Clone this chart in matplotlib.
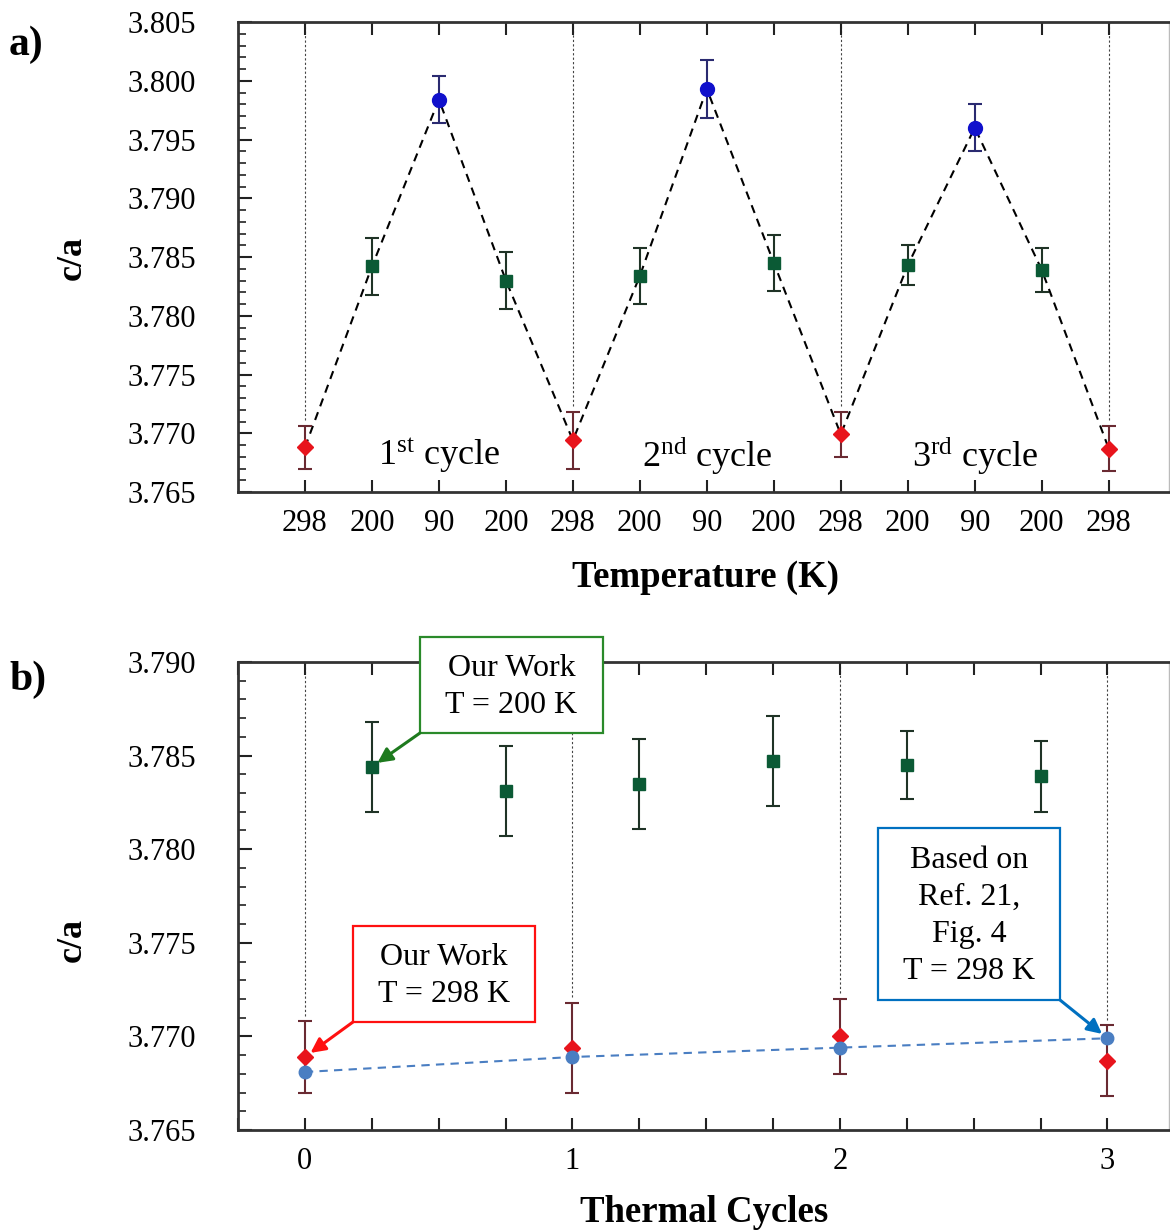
import matplotlib
matplotlib.use("Agg")
import matplotlib.pyplot as plt
from matplotlib.ticker import MultipleLocator, FixedLocator
from matplotlib.patches import Rectangle
import numpy as np

plt.rcParams['font.family'] = ['Liberation Serif', 'DejaVu Serif']
plt.rcParams['mathtext.fontset'] = 'custom'
plt.rcParams['mathtext.rm'] = 'Liberation Serif'
plt.rcParams['mathtext.it'] = 'Liberation Serif:italic'
plt.rcParams['mathtext.bf'] = 'Liberation Serif:bold'

# ---------------- data ----------------
temp_labels = ['298', '200', '90', '200', '298', '200', '90', '200', '298', '200', '90', '200', '298']
ca_top = [3.7688, 3.7842, 3.7984, 3.7830, 3.7694, 3.7834, 3.7993, 3.7845, 3.7699, 3.7843, 3.7960, 3.7839, 3.7687]
err_top = [0.0018, 0.0024, 0.0020, 0.0024, 0.0024, 0.0024, 0.0025, 0.0024, 0.0019, 0.0017, 0.0020, 0.0019, 0.0019]
cycle_names = ['1$^{\\rm st}$ cycle', '2$^{\\rm nd}$ cycle', '3$^{\\rm rd}$ cycle']

cycles_298 = [0, 1, 2, 3]
ca_298 = [3.7689, 3.7694, 3.7700, 3.7687]
err_298 = [0.0019, 0.0024, 0.0020, 0.0019]

cycles_200 = [0.25, 0.75, 1.25, 1.75, 2.25, 2.75]
ca_200 = [3.7844, 3.7831, 3.7835, 3.7847, 3.7845, 3.7839]
err_200 = [0.0024, 0.0024, 0.0024, 0.0024, 0.0018, 0.0019]

ref21_cycles = [0, 1, 2, 3]
ref21_ca = [3.7681, 3.7689, 3.7694, 3.7699]

# ---------------- figure ----------------
W, H = 1170, 1232
fig = plt.figure(figsize=(W / 100, H / 100), dpi=100)

def fx(px):
    return px / W

def fy(py):
    return 1 - py / H

AX_L, AX_R = 238, 1169
ax1 = fig.add_axes([fx(AX_L), fy(492), fx(AX_R) - fx(AX_L), fy(22) - fy(492)])
ax2 = fig.add_axes([fx(AX_L), fy(1130), fx(AX_R) - fx(AX_L), fy(662) - fy(1130)])

RED = '#e8141c'
GREEN = '#0b5a35'
BLUE = '#1010cc'
REFBLUE = '#4a7ec2'

def style_axes(ax):
    for s in ['left', 'bottom', 'top']:
        ax.spines[s].set_linewidth(2.0)
        ax.spines[s].set_color('#333333')
    ax.spines['right'].set_linewidth(1.0)
    ax.spines['right'].set_color('#bbbbbb')
    ax.tick_params(axis='both', which='both', direction='in', labelsize=22, colors='#222222', labelcolor='black')
    ax.tick_params(axis='y', which='major', length=10, width=1.5, pad=30, right=False)
    ax.tick_params(axis='y', which='minor', length=6, width=1.2, right=False)
    ax.tick_params(axis='x', which='both', length=9, width=1.5, top=True, bottom=True, pad=12)

# ---------------- panel a ----------------
x_idx = np.arange(len(ca_top))
colors_top = []
markers_top = []
for lab in temp_labels:
    if lab == '298':
        colors_top.append(RED); markers_top.append('D')
    elif lab == '200':
        colors_top.append(GREEN); markers_top.append('s')
    else:
        colors_top.append(BLUE); markers_top.append('o')

ax1.set_xlim(-1, 12.9)
ax1.set_ylim(3.765, 3.805)

for i, lab in enumerate(temp_labels):
    if lab == '298':
        ax1.plot([i, i], [ca_top[i] + err_top[i] + 0.0005, 3.805], color='#444444',
                 lw=0.8, linestyle=(0, (2, 2)), zorder=1)

ax1.plot(x_idx, ca_top, color='black', lw=1.5, linestyle=(0, (4, 3)), zorder=2)

for i in range(len(ca_top)):
    c = colors_top[i]
    m = markers_top[i]
    ecol = {RED: '#6a2a32', GREEN: '#1f3326', BLUE: '#2a2a70'}[c]
    ms = {'D': 8, 's': 9, 'o': 10}[m]
    ax1.errorbar(x_idx[i], ca_top[i], yerr=err_top[i], fmt=m, color=c, ms=ms,
                 mec=c, ecolor=ecol, elinewidth=1.5, capsize=5, capthick=1.5, zorder=3)

ax1.set_xticks(x_idx)
ax1.set_xticklabels(temp_labels)
ax1.yaxis.set_minor_locator(MultipleLocator(0.001))
ax1.set_yticks(np.round(np.arange(3.765, 3.8051, 0.005), 3))
ax1.set_yticklabels(['%.3f' % v for v in np.arange(3.765, 3.8051, 0.005)])
style_axes(ax1)

for k, name in enumerate(cycle_names):
    ax1.text(2 + 4 * k, 3.7681, name, ha='center', va='center', fontsize=26)

# ---------------- panel b ----------------
ax2.set_xlim(-0.25, 3.23)
ax2.set_ylim(3.765, 3.790)

for i, c in enumerate(cycles_298):
    ax2.plot([c, c], [ca_298[i] + err_298[i] + 0.0003, 3.790], color='#444444',
             lw=0.8, linestyle=(0, (2, 2)), zorder=1)

ax2.errorbar(cycles_200, ca_200, yerr=err_200, fmt='s', color=GREEN, ms=9, mec=GREEN,
             ecolor='#1f3326', elinewidth=1.5, capsize=5, capthick=1.5, zorder=3)
ax2.errorbar(cycles_298, ca_298, yerr=err_298, fmt='D', color=RED, ms=8, mec=RED,
             ecolor='#6a2a32', elinewidth=1.5, capsize=5, capthick=1.5, zorder=3)
ax2.plot(ref21_cycles, ref21_ca, color=REFBLUE, lw=1.5, linestyle=(0, (4, 3)),
         marker='o', ms=9, mfc=REFBLUE, mec=REFBLUE, zorder=4)

ax2.xaxis.set_major_locator(FixedLocator([0, 1, 2, 3]))
ax2.xaxis.set_minor_locator(MultipleLocator(0.25))
ax2.yaxis.set_minor_locator(MultipleLocator(0.001))
ax2.set_yticks(np.round(np.arange(3.765, 3.7901, 0.005), 3))
ax2.set_yticklabels(['%.3f' % v for v in np.arange(3.765, 3.7901, 0.005)])
style_axes(ax2)
ax2.tick_params(axis='x', which='minor', length=9, width=1.5)

# annotation boxes (pixel extents converted to axes fraction)
def afx(px):
    return (px - AX_L) / (AX_R - AX_L)

def afy(py):
    return (1130 - py) / (1130 - 662)

def box_note(text, x0, x1, y0, y1, ec, acol, target, corner):
    ax2.add_patch(Rectangle((afx(x0), afy(y1)), afx(x1) - afx(x0), afy(y0) - afy(y1),
                            transform=ax2.transAxes, fc='white', ec=ec, lw=1.6,
                            clip_on=False, zorder=6))
    ax2.text(afx((x0 + x1) / 2), afy((y0 + y1) / 2 + 2), text, transform=ax2.transAxes,
             ha='center', va='center', multialignment='center', fontsize=23,
             linespacing=1.35, zorder=7)
    cx = afx(x0) if corner == 'left' else afx(x1)
    ax2.annotate('', xy=target, xycoords='data', xytext=(cx, afy(y1)),
                 textcoords='axes fraction', annotation_clip=False,
                 arrowprops=dict(arrowstyle='-|>', color=acol, lw=2.2, mutation_scale=22,
                                 shrinkA=0, shrinkB=5), zorder=6)

box_note('Our Work\nT = 200 K', 420, 603, 637, 733, '#2a8a2a', '#1e7a1e',
         (cycles_200[0], ca_200[0]), 'left')
box_note('Our Work\nT = 298 K', 353, 535, 926, 1022, '#ff1010', '#ff1010',
         (cycles_298[0], ca_298[0]), 'left')
box_note('Based on\nRef. 21,\nFig. 4\nT = 298 K', 878, 1060, 828, 1000, '#0070c0', '#0070c0',
         (ref21_cycles[3], ref21_ca[3]), 'right')

# labels
fig.text(fx(705), fy(578), 'Temperature (K)', ha='center', va='center', fontsize=26.5, fontweight='bold')
fig.text(fx(704), fy(1213), 'Thermal Cycles', ha='center', va='center', fontsize=26.5, fontweight='bold')
fig.text(fx(72), fy(258), 'c/a', ha='center', va='center', fontsize=26, fontweight='bold', rotation=90)
fig.text(fx(72), fy(940), 'c/a', ha='center', va='center', fontsize=26, fontweight='bold', rotation=90)
fig.text(fx(9), fy(45), 'a)', ha='left', va='center', fontsize=30, fontweight='bold')
fig.text(fx(9), fy(680), 'b)', ha='left', va='center', fontsize=30, fontweight='bold')

fig.savefig('out.png', dpi=100)
